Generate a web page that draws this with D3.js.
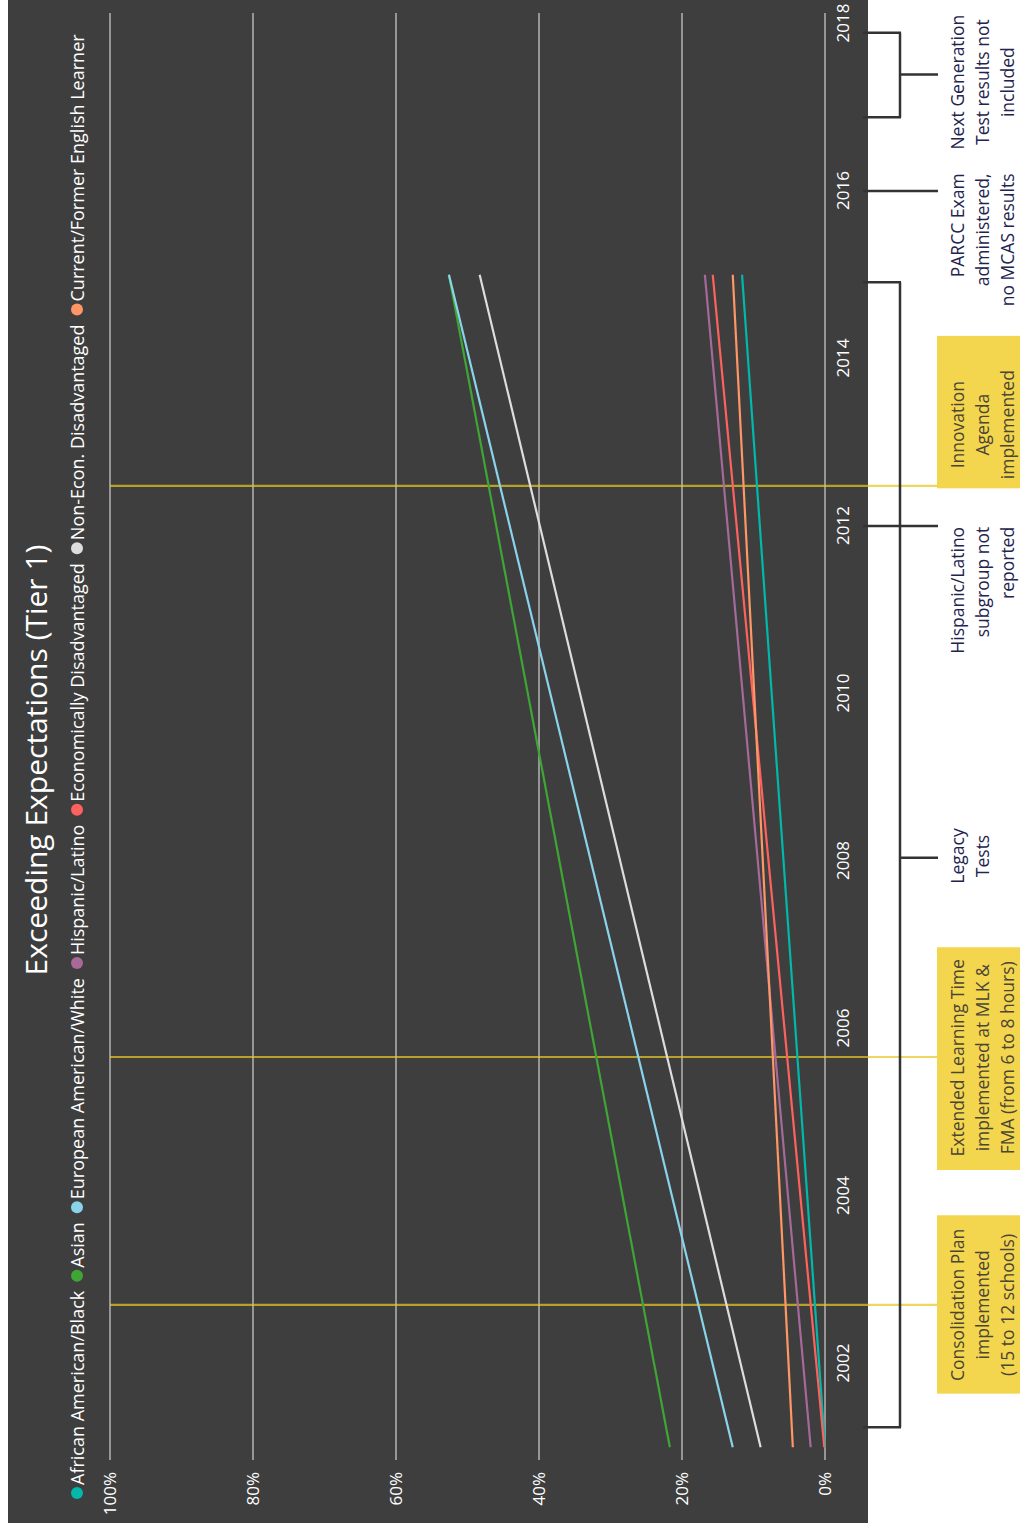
<!DOCTYPE html>
<html>
<head>
<meta charset="utf-8">
<script src="https://cdn.jsdelivr.net/npm/d3@7"></script>
<style>
  html, body { margin: 0; padding: 0; background: #ffffff; }
  svg { display: block; }
  text { font-family: "Open Sans", "Noto Sans", sans-serif; }
</style>
</head>
<body>
<div id="chart"></div>
<script>
// ---------- DATA ----------
const title = "Exceeding Expectations (Tier 1)";
const years = [2001, 2015];
const seriesNames = [
  "African American/Black",
  "Asian",
  "European American/White",
  "Hispanic/Latino",
  "Economically Disadvantaged",
  "Non-Econ. Disadvantaged",
  "Current/Former English Learner"
];
const seriesColors = ["#01B8AA", "#3FA535", "#8AD4EB", "#A66999", "#FD625E", "#DDDDDD", "#FE9666"];
const africanAmerican = [0.0, 11.6];
const asian = [21.7, 52.6];
const european = [12.9, 52.6];
const hispanic = [2.0, 16.8];
const econDisadvantaged = [0.1, 15.7];
const nonEconDisadvantaged = [9.0, 48.3];
const englishLearner = [4.5, 12.9];
const seriesValues = [africanAmerican, asian, european, hispanic, econDisadvantaged, nonEconDisadvantaged, englishLearner];

const yearTicks = [2002, 2004, 2006, 2008, 2010, 2012, 2014, 2016, 2018];
const pctTicks = [0, 20, 40, 60, 80, 100];

// event lines with highlighted boxes
const eventYears = [2002.70, 2005.66, 2012.48];
const eventBoxStart = [2001.64, 2004.31, 2012.45];
const eventBoxEnd = [2003.77, 2006.97, 2014.27];
const eventTextCenter = [2002.70, 2005.65, 2013.21];
const eventLabels = [
  ["Consolidation Plan", "implemented", "(15 to 12 schools)"],
  ["Extended Learning Time", "implemented at MLK &", "FMA (from 6 to 8 hours)"],
  ["Innovation", "Agenda", "implemented"]
];

// bracket annotations
const bracketStart = [2001.24, 2016.88];
const bracketEnd = [2014.91, 2017.89];
const bracketMid = [2008.04, 2017.39];
const bracketTextCenter = [2008.06, 2017.30];
const bracketLabels = [["Legacy", "Tests"], ["Next Generation", "Test results not", "included"]];

// single-tick annotations (text end-aligned)
const noteYears = [2012, 2016];
const noteTextEnd = [2011.99, 2016.21];
const noteLabels = [["Hispanic/Latino", "subgroup not", "reported"], ["PARCC Exam", "administered,", "no MCAS results"]];

// ---------- DRAW ----------
const W = 1020, H = 1525;
const svg = d3.select("#chart").append("svg").attr("width", W).attr("height", H);

// rotated frame: u (horizontal) = H - y_img, v (vertical) = x_img
const g = svg.append("g").attr("transform", `translate(0,${H}) rotate(-90)`);

// background panel
g.append("rect").attr("x", 2).attr("y", 8).attr("width", 1523).attr("height", 860).attr("fill", "#3e3e3e");

const x = d3.scaleLinear().domain([2001, 2018]).range([H - 1447.25, H - 23.5]);
const y = d3.scaleLinear().domain([0, 100]).range([825, 110]);

// gridlines
g.append("g").selectAll("line").data(pctTicks).join("line")
  .attr("x1", 65).attr("x2", 1512)
  .attr("y1", d => y(d)).attr("y2", d => y(d))
  .attr("stroke", "#b5b5b5").attr("stroke-width", 1.5);

// axes
const xAxis = g.append("g").attr("transform", "translate(0,825)")
  .call(d3.axisBottom(x).tickValues(yearTicks).tickFormat(d3.format("d")).tickSize(0).tickPadding(12));
const yAxis = g.append("g").attr("transform", "translate(65,0)")
  .call(d3.axisLeft(y).tickValues(pctTicks).tickFormat(d => d + "%").tickSize(0).tickPadding(12));
[xAxis, yAxis].forEach(a => {
  a.select(".domain").remove();
  a.selectAll("text").attr("fill", "#ffffff").style("font-size", "17px").style("font-family", "'Open Sans', sans-serif");
});

// event lines (drawn under the series)
const eventG = g.append("g");
eventG.selectAll("line").data(eventYears).join("line")
  .attr("x1", d => x(d)).attr("x2", d => x(d))
  .attr("y1", 110).attr("y2", 938)
  .attr("stroke", "#E8C623").attr("stroke-opacity", 0.72).attr("stroke-width", 2.2);

// series lines
const line = d3.line().x((d, i) => x(years[i])).y(d => y(d));
g.append("g").selectAll("path").data(seriesValues).join("path")
  .attr("d", d => line(d))
  .attr("fill", "none")
  .attr("stroke", (d, i) => seriesColors[i])
  .attr("stroke-width", 2.2);

// title
g.append("text").attr("x", H - 760).attr("y", 35)
  .attr("text-anchor", "middle").attr("dominant-baseline", "central")
  .attr("fill", "#ffffff").style("font-size", "30px").text(title);

// legend
const legend = g.append("g");
let cursor = H - 1493;
seriesNames.forEach((name, i) => {
  legend.append("circle").attr("cx", cursor).attr("cy", 77).attr("r", 6).attr("fill", seriesColors[i]);
  const t = legend.append("text").attr("x", cursor + 8).attr("y", 77)
    .attr("dominant-baseline", "central").attr("fill", "#ffffff")
    .style("font-size", "18px").text(name);
  cursor += 8 + t.node().getComputedTextLength() + 15;
});

// annotation panel
const ann = g.append("g");
const lineV = [957, 982, 1007];

// event boxes
eventYears.forEach((yr, i) => {
  ann.append("rect")
    .attr("x", x(eventBoxStart[i])).attr("width", x(eventBoxEnd[i]) - x(eventBoxStart[i]))
    .attr("y", 937).attr("height", 90)
    .attr("fill", "#F3D54E");
  eventLabels[i].forEach((s, j) => {
    ann.append("text").attr("x", x(eventTextCenter[i])).attr("y", lineV[j])
      .attr("text-anchor", "middle").attr("dominant-baseline", "central")
      .attr("fill", "#4a4535").style("font-size", "17.5px").text(s);
  });
});

// brackets
const bc = "#333333";
bracketStart.forEach((b, i) => {
  [b, bracketEnd[i]].forEach(t => {
    ann.append("line").attr("x1", x(t)).attr("x2", x(t)).attr("y1", 863).attr("y2", 901)
      .attr("stroke", bc).attr("stroke-width", 2.5);
  });
  ann.append("line").attr("x1", x(b)).attr("x2", x(bracketEnd[i])).attr("y1", 900).attr("y2", 900)
    .attr("stroke", bc).attr("stroke-width", 2.5);
  ann.append("line").attr("x1", x(bracketMid[i])).attr("x2", x(bracketMid[i])).attr("y1", 900).attr("y2", 938)
    .attr("stroke", bc).attr("stroke-width", 2.5);
  bracketLabels[i].forEach((s, j) => {
    ann.append("text").attr("x", x(bracketTextCenter[i])).attr("y", lineV[j])
      .attr("text-anchor", "middle").attr("dominant-baseline", "central")
      .attr("fill", "#23234f").style("font-size", "17.5px").text(s);
  });
});

// single ticks
noteYears.forEach((yr, i) => {
  ann.append("line").attr("x1", x(yr)).attr("x2", x(yr)).attr("y1", 863).attr("y2", 938)
    .attr("stroke", bc).attr("stroke-width", 2.5);
  noteLabels[i].forEach((s, j) => {
    ann.append("text").attr("x", x(noteTextEnd[i])).attr("y", lineV[j])
      .attr("text-anchor", "end").attr("dominant-baseline", "central")
      .attr("fill", "#23234f").style("font-size", "17.5px").text(s);
  });
});
</script>
</body>
</html>
